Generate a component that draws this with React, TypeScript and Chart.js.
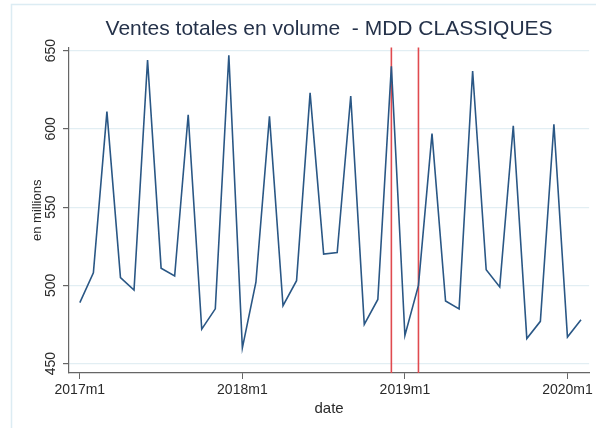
import React, { useEffect, useRef } from 'react';
import { Chart, registerables } from 'chart.js';

Chart.register(...registerables);

const months = [
  '2017m1', '2017m2', '2017m3', '2017m4', '2017m5', '2017m6', '2017m7', '2017m8', '2017m9', '2017m10', '2017m11', '2017m12',
  '2018m1', '2018m2', '2018m3', '2018m4', '2018m5', '2018m6', '2018m7', '2018m8', '2018m9', '2018m10', '2018m11', '2018m12',
  '2019m1', '2019m2', '2019m3', '2019m4', '2019m5', '2019m6', '2019m7', '2019m8', '2019m9', '2019m10', '2019m11', '2019m12',
  '2020m1', '2020m2',
];

const sales = [
  489, 508, 611, 505, 497, 644, 511, 506, 609, 472, 485, 647,
  460, 502, 608, 487, 503, 623, 520, 521, 621, 475, 491, 640,
  468, 500, 597, 490, 485, 637, 510, 499, 602, 466, 477, 603,
  467, 478,
];

const xTickLabels = ['2017m1', '2018m1', '2019m1', '2020m1'];
const yTickValues = [450, 500, 550, 600, 650];
const markerMonths = ['2018m12', '2019m2'];

const titleText = 'Ventes totales en volume  - MDD CLASSIQUES';
const yTitle = 'en millions';
const xTitle = 'date';

const FONT = '"Liberation Sans", Arial, Helvetica, sans-serif';

export default function App() {
  const canvasRef = useRef<HTMLCanvasElement | null>(null);

  useEffect(() => {
    const canvas = canvasRef.current;
    if (!canvas) return;

    const points = sales.map((v, i) => ({ x: i, y: v }));
    const xTickIdx = xTickLabels.map((l) => months.indexOf(l));
    const markerIdx = markerMonths.map((m) => months.indexOf(m));

    const decor = {
      id: 'decor',
      beforeDraw(chart: any) {
        const ctx = chart.ctx;
        ctx.save();
        ctx.fillStyle = '#ffffff';
        ctx.fillRect(0, 0, chart.width, chart.height);
        ctx.strokeStyle = '#dcecf3';
        ctx.lineWidth = 1.5;
        ctx.beginPath();
        ctx.moveTo(11.5, chart.height);
        ctx.lineTo(11.5, 4.5);
        ctx.lineTo(chart.width, 4.5);
        ctx.stroke();
        ctx.restore();
      },
      afterLayout(chart: any) {
        const tb = chart.titleBlock;
        const a = chart.chartArea;
        if (tb && a) {
          tb.left = a.left;
          tb.right = a.right;
          tb.width = a.right - a.left;
        }
      },
      beforeDatasetsDraw(chart: any) {
        const ctx = chart.ctx;
        const a = chart.chartArea;
        const xs = chart.scales.x;
        ctx.save();
        ctx.strokeStyle = '#e04a4f';
        ctx.lineWidth = 1.6;
        markerIdx.forEach((idx) => {
          const px = xs.getPixelForValue(idx);
          ctx.beginPath();
          ctx.moveTo(px, a.top);
          ctx.lineTo(px, a.bottom);
          ctx.stroke();
        });
        ctx.restore();
      },
    };

    const chart = new Chart(canvas, {
      type: 'line',
      data: {
        datasets: [
          {
            label: 'MDD CLASSIQUES',
            data: points,
            borderColor: '#2a5785',
            borderWidth: 1.6,
            pointRadius: 0,
            tension: 0,
            fill: false,
          },
        ],
      },
      options: {
        responsive: false,
        animation: false,
        devicePixelRatio: 1,
        layout: { padding: { left: 0, right: 6, top: 0, bottom: 0 } },
        plugins: {
          legend: { display: false },
          tooltip: { enabled: false },
          title: {
            display: true,
            text: titleText,
            color: '#25324a',
            font: { family: FONT, size: 21, weight: 'normal' },
            padding: { top: 17, bottom: 5.3 },
          },
        },
        scales: {
          x: {
            type: 'linear',
            min: -0.8,
            max: 37.6,
            afterBuildTicks: (s: any) => {
              s.ticks = xTickIdx.map((v) => ({ value: v }));
            },
            afterFit: (s: any) => {
              s.height = 55;
            },
            ticks: {
              autoSkip: false,
              minRotation: 0,
              maxRotation: 0,
              padding: 3,
              color: '#2a2a2a',
              font: { family: FONT, size: 14 },
              callback: (v: any) => months[Number(v)] ?? '',
            },
            grid: {
              drawOnChartArea: false,
              color: '#666666',
              tickColor: '#666666',
              tickLength: 6,
            },
            border: { color: '#666666', width: 1.2 },
            title: {
              display: true,
              text: xTitle,
              color: '#2a2a2a',
              font: { family: FONT, size: 15 },
              padding: { top: 0, bottom: 10 },
            },
          },
          y: {
            type: 'linear',
            min: 444,
            max: 652,
            afterBuildTicks: (s: any) => {
              s.ticks = yTickValues.map((v) => ({ value: v }));
            },
            afterFit: (s: any) => {
              s.width = 69;
            },
            ticks: {
              minRotation: 90,
              maxRotation: 90,
              crossAlign: 'center',
              padding: 0,
              color: '#2a2a2a',
              font: { family: FONT, size: 14 },
            },
            grid: {
              color: '#e2eef3',
              tickColor: '#666666',
              tickLength: 6,
              lineWidth: 1.2,
            },
            border: { color: '#666666', width: 1.2 },
            title: {
              display: true,
              text: yTitle,
              color: '#2a2a2a',
              font: { family: FONT, size: 13 },
              padding: { top: 30, bottom: 0 },
            },
          },
        },
      } as any,
      plugins: [decor],
    });

    return () => {
      chart.destroy();
    };
  }, []);

  return (
    <div style={{ position: 'fixed', left: 0, top: 0, width: 596, height: 428, background: '#ffffff' }}>
      <canvas ref={canvasRef} width={596} height={428} style={{ display: 'block' }} />
    </div>
  );
}
